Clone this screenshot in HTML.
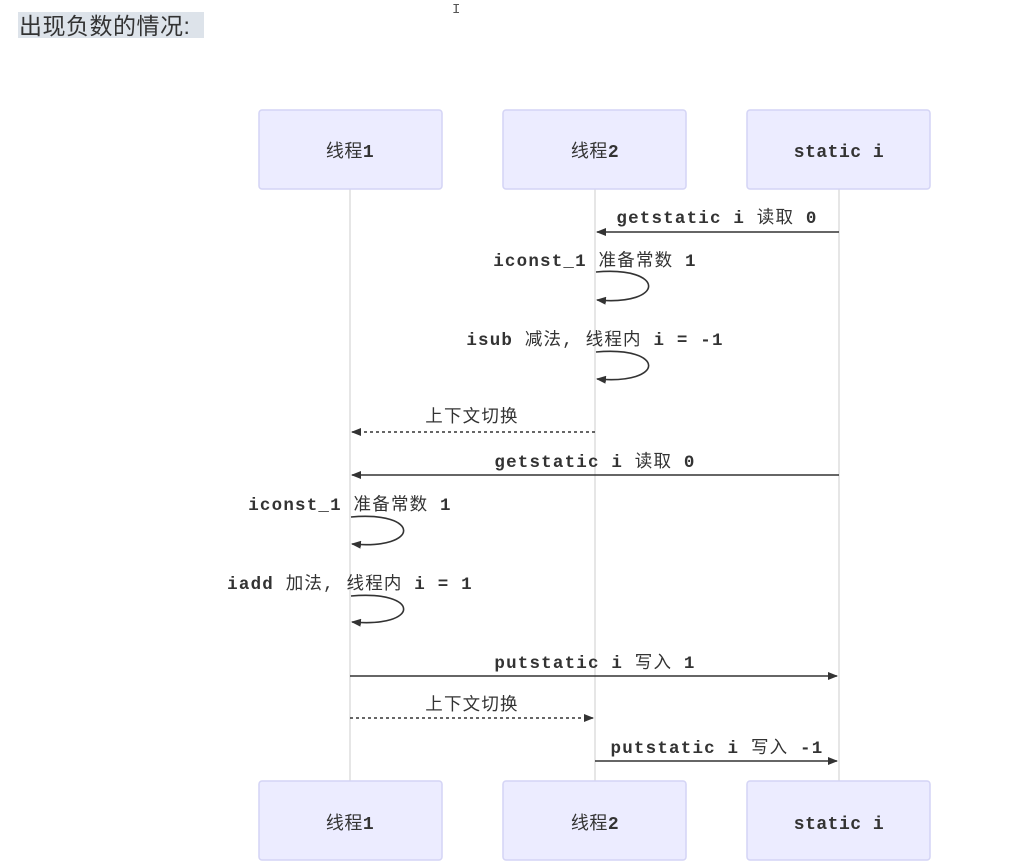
<!DOCTYPE html>
<html><head><meta charset="utf-8"><style>
html,body{margin:0;padding:0;background:#fff;width:1024px;height:867px;overflow:hidden}
</style></head><body>
<svg width="1024" height="867" xmlns="http://www.w3.org/2000/svg" font-family="'Liberation Mono','Noto Sans CJK SC',monospace">
<defs>
<marker id="a" markerWidth="10" markerHeight="8" refX="9" refY="4" orient="auto" markerUnits="userSpaceOnUse"><path d="M0,0 L10,4 L0,8 z" fill="#333"/></marker>
</defs>
<rect x="18" y="12" width="186" height="26" fill="#dde3ea"/>
<text x="19" y="34" font-family="'Liberation Sans','Noto Sans CJK SC',sans-serif" font-size="23" fill="#333" letter-spacing="0.5">出现负数的情况:</text>
<text x="452" y="13" font-size="14" fill="#555">I</text>
<g stroke="#ccc" stroke-width="1">
<line x1="350" y1="189" x2="350" y2="781"/>
<line x1="595" y1="189" x2="595" y2="781"/>
<line x1="839" y1="189" x2="839" y2="781"/>
</g>
<g fill="#ececff" stroke="#d4d4f5" stroke-width="1.5">
<rect x="259" y="110" width="183" height="79" rx="3"/>
<rect x="503" y="110" width="183" height="79" rx="3"/>
<rect x="747" y="110" width="183" height="79" rx="3"/>
<rect x="259" y="781" width="183" height="79" rx="3"/>
<rect x="503" y="781" width="183" height="79" rx="3"/>
<rect x="747" y="781" width="183" height="79" rx="3"/>
</g>
<g font-size="18" fill="#333" text-anchor="middle" letter-spacing="0.5">
<text x="350" y="157">线程<tspan font-weight="bold">1</tspan></text><text x="595" y="157">线程<tspan font-weight="bold">2</tspan></text><text x="839" y="157" font-weight="bold">static i</text>
<text x="350" y="829">线程<tspan font-weight="bold">1</tspan></text><text x="595" y="829">线程<tspan font-weight="bold">2</tspan></text><text x="839" y="829" font-weight="bold">static i</text>
</g>
<g stroke="#333" stroke-width="1.6" fill="none">
<line x1="839" y1="232" x2="597" y2="232" marker-end="url(#a)"/>
<path d="M596,272 C666,266 666,306 597,300" marker-end="url(#a)"/>
<path d="M596,352 C666,346 666,385 597,379" marker-end="url(#a)"/>
<line x1="595" y1="432" x2="352" y2="432" stroke-dasharray="3,3" marker-end="url(#a)"/>
<line x1="839" y1="475" x2="352" y2="475" marker-end="url(#a)"/>
<path d="M351,517 C421,511 421,550 352,544" marker-end="url(#a)"/>
<path d="M351,596 C421,590 421,628 352,622" marker-end="url(#a)"/>
<line x1="350" y1="676" x2="837" y2="676" marker-end="url(#a)"/>
<line x1="350" y1="718" x2="593" y2="718" stroke-dasharray="3,3" marker-end="url(#a)"/>
<line x1="595" y1="761" x2="837" y2="761" marker-end="url(#a)"/>
</g>
<g font-size="17.5" fill="#333" text-anchor="middle" font-weight="bold" letter-spacing="1.2">
<text x="717" y="223">getstatic i <tspan font-weight="normal">读取</tspan> 0</text>
<text x="595" y="266">iconst_1 <tspan font-weight="normal">准备常数</tspan> 1</text>
<text x="595" y="345">isub <tspan font-weight="normal">减法,</tspan> <tspan font-weight="normal">线程内</tspan> i = -1</text>
<text x="472" y="422" font-weight="normal">上下文切换</text>
<text x="595" y="467">getstatic i <tspan font-weight="normal">读取</tspan> 0</text>
<text x="350" y="510">iconst_1 <tspan font-weight="normal">准备常数</tspan> 1</text>
<text x="350" y="589">iadd <tspan font-weight="normal">加法,</tspan> <tspan font-weight="normal">线程内</tspan> i = 1</text>
<text x="595" y="668">putstatic i <tspan font-weight="normal">写入</tspan> 1</text>
<text x="472" y="710" font-weight="normal">上下文切换</text>
<text x="717" y="753">putstatic i <tspan font-weight="normal">写入</tspan> -1</text>
</g>
</svg>
</body></html>
